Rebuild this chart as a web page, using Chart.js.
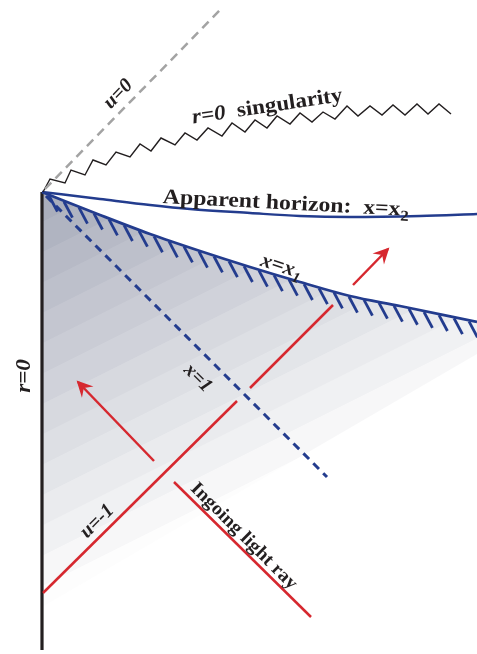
<!DOCTYPE html>
<html>
<head>
<meta charset="utf-8">
<script src="https://cdn.jsdelivr.net/npm/chart.js@4.4.1/dist/chart.umd.min.js"></script>
<style>
html, body { margin: 0; padding: 0; background: #fff; }
#wrap { width: 477px; height: 654px; }
</style>
</head>
<body>
<div id="wrap"><canvas id="graph" width="477" height="654"></canvas></div>
<script>
/**********/
// diagram coordinates: origin at the r=0 corner, y up
const axisR0       = [[0, 0], [0, -458]];
const nullU0       = [[3, 3], [178, 182]];
const singularity  = [[1, 0], [8, 13], [23, 9], [29, 22], [43, 17], [51, 32], [64, 27], [74, 40], [88, 35],
                      [98, 48], [109, 41], [119, 54], [133, 47], [143, 59], [155, 52], [166, 64], [180, 56],
                      [190, 69], [203, 60], [213, 72], [225, 64], [235, 76], [248, 68], [258, 79], [270, 70],
                      [281, 80], [293, 73], [305, 86], [316, 76], [328, 86], [340, 77], [351, 87], [363, 77],
                      [375, 88], [386, 78], [397, 88], [409, 78]];
const horizonX2    = [[0, 0], [58, -7], [108, -13], [148, -17], [208, -21], [258, -24], [308, -25], [378, -24], [435, -22]];
const horizonX1    = [[0, 0], [58, -23], [108, -42], [158, -59], [208, -75], [258, -90], [308, -104], [358, -114], [435, -130]];
const lineX1       = [[4, -4], [285, -285]];
const rayUm1Lower  = [[1, -401], [195, -209]];
const rayUm1Upper  = [[208, -196], [291, -113]];
const rayOut       = [[311, -93], [346, -57]];
const rayBack      = [[112, -269], [36, -190]];
const rayIngoing   = [[132, -290], [269, -425]];
const shadeEdge    = [[435, -162], [0, -415]];

const BLUE = "#233c8e";
const RED = "#d6282f";
const INK = "#231f20";

function pts(list) { return list.map(p => ({ x: p[0], y: p[1] })); }

/**********/
function shadeGradient(context)
{
    let chart = context.chart;
    if(!chart.chartArea) { return "#ccc"; }

    let x0 = chart.scales.x.getPixelForValue(0);
    let y0 = chart.scales.y.getPixelForValue(0);

    let g = chart.ctx.createLinearGradient(x0, y0, x0 + 170, y0 + 340);
    let bands = 14;
    let c0 = [170, 174, 188];
    let c1 = [253, 253, 253];

    for(let i = 0; i < bands; i++)
    {
        let t = i / (bands - 1);
        let c = c0.map((v, k) => Math.round(v + (c1[k] - v) * t));
        let col = "rgb(" + c.join(",") + ")";
        g.addColorStop(i / bands, col);
        g.addColorStop((i + 1) / bands - 0.002, col);
    }
    g.addColorStop(1, "rgb(253,253,253)");
    return g;
}

/**********/
function lineSet(list, color, width, extra)
{
    let ds = {
        data: pts(list),
        showLine: true,
        pointRadius: 0,
        borderColor: color,
        borderWidth: width,
        fill: false,
        order: 0
    };
    return Object.assign(ds, extra || {});
}

let shadeData = horizonX1.concat(shadeEdge).concat([horizonX1[0]]);

let datasets = [];
datasets.push({ data: pts(shadeData), showLine: true, pointRadius: 0, borderWidth: 0,
                borderColor: "rgba(0,0,0,0)", backgroundColor: shadeGradient, fill: "shape", order: 10 });
datasets.push(lineSet(nullU0, "#a3a3a3", 2.5, { borderDash: [9, 6] }));
datasets.push(lineSet(singularity, INK, 1.4, { borderJoinStyle: "miter" }));
datasets.push(lineSet(horizonX2, BLUE, 2.5, { cubicInterpolationMode: "monotone" }));
datasets.push(lineSet(horizonX1, BLUE, 2.8, { cubicInterpolationMode: "monotone", hatch: true }));
datasets.push(lineSet(lineX1, BLUE, 3, { borderDash: [8, 6] }));
datasets.push(lineSet(rayUm1Lower, RED, 2.5));
datasets.push(lineSet(rayUm1Upper, RED, 2.5));
datasets.push(lineSet(rayOut, RED, 2.5, { arrow: true }));
datasets.push(lineSet(rayBack, RED, 2.5, { arrow: true }));
datasets.push(lineSet(rayIngoing, RED, 2.5));
datasets.push(lineSet(axisR0, INK, 3.2));

/**********/
// labels: text parts, anchor in diagram units
const labels = [
    { parts: [{ t: "u=0", f: "italic bold" }], at: [75, 99], rot: -46, size: 20, sx: 1 },
    { parts: [{ t: "r=0", f: "italic bold" }, { t: "  singularity", f: "bold" }], at: [225, 87], rot: -8.5, size: 21, sx: 1.1 },
    { parts: [{ t: "Apparent horizon:  x=x", f: "bold" }, { t: "2", f: "bold", sub: true }], at: [244, -10], rot: 3, size: 21, sx: 1.13 },
    { parts: [{ t: "x=x", f: "italic bold" }, { t: "1", f: "italic bold", sub: true }], at: [240, -73], rot: 18, size: 21, sx: 1.05 },
    { parts: [{ t: "x=1", f: "italic bold" }], at: [157, -185], rot: 45, size: 20, sx: 1 },
    { parts: [{ t: "r=0", f: "italic bold" }], at: [-20, -184], rot: -90, size: 22, sx: 1.05 },
    { parts: [{ t: "u=-1", f: "italic bold" }], at: [54, -328], rot: -45, size: 20, sx: 1 },
    { parts: [{ t: "Ingoing light ray", f: "bold" }], at: [203, -343], rot: 45, size: 19, sx: 1.05 }
];

/**********/
const decorations = {
    id: "decorations",
    afterDatasetsDraw(chart)
    {
        let ctx = chart.ctx;

        chart.data.datasets.forEach((ds, i) =>
        {
            let meta = chart.getDatasetMeta(i);
            let p = meta.data.map(e => [e.x, e.y]);

            //hatching under x=x1
            if(ds.hatch)
            {
                ctx.save();
                ctx.strokeStyle = ds.borderColor;
                ctx.lineWidth = 2.8;
                let a = 62 * Math.PI / 180;
                let len = 18;
                for(let x = p[0][0] + 7; x <= chart.width; x += 15)
                {
                    let y = null;
                    for(let k = 0; k < p.length - 1; k++)
                    {
                        if(x >= p[k][0] && x <= p[k + 1][0])
                        {
                            let t = (x - p[k][0]) / (p[k + 1][0] - p[k][0]);
                            y = p[k][1] + t * (p[k + 1][1] - p[k][1]);
                        }
                    }
                    if(y === null) { continue; }
                    ctx.beginPath();
                    ctx.moveTo(x, y + 1);
                    ctx.lineTo(x + len * Math.cos(a), y + 1 + len * Math.sin(a));
                    ctx.stroke();
                }
                ctx.restore();
            }

            //arrow heads
            if(ds.arrow)
            {
                let a = p[p.length - 2], b = p[p.length - 1];
                let dx = b[0] - a[0], dy = b[1] - a[1];
                let d = Math.hypot(dx, dy);
                let ux = dx / d, uy = dy / d;
                let nx = -uy, ny = ux;
                let L = 16, w = 8;
                let tx = b[0] + ux * 2, ty = b[1] + uy * 2;
                ctx.save();
                ctx.fillStyle = ds.borderColor;
                ctx.beginPath();
                ctx.moveTo(tx, ty);
                ctx.lineTo(tx - ux * L + nx * w, ty - uy * L + ny * w);
                ctx.lineTo(tx - ux * L * 0.65, ty - uy * L * 0.65);
                ctx.lineTo(tx - ux * L - nx * w, ty - uy * L - ny * w);
                ctx.closePath();
                ctx.fill();
                ctx.restore();
            }
        });

        //text labels
        labels.forEach(lb =>
        {
            let cx = chart.scales.x.getPixelForValue(lb.at[0]);
            let cy = chart.scales.y.getPixelForValue(lb.at[1]);
            ctx.save();
            ctx.translate(cx, cy);
            ctx.rotate(lb.rot * Math.PI / 180);
            ctx.scale(lb.sx, 1);
            ctx.fillStyle = INK;
            ctx.textBaseline = "alphabetic";

            let fontOf = part => part.f + " " + (part.sub ? Math.round(lb.size * 0.7) : lb.size) + "px 'Liberation Serif', serif";
            let total = 0;
            lb.parts.forEach(part => { ctx.font = fontOf(part); total += ctx.measureText(part.t).width; });

            let x = -total / 2;
            lb.parts.forEach(part =>
            {
                ctx.font = fontOf(part);
                ctx.fillText(part.t, x, lb.size * 0.35 + (part.sub ? lb.size * 0.25 : 0));
                x += ctx.measureText(part.t).width;
            });
            ctx.restore();
        });
    }
};

/**********/
const graph = new Chart(document.getElementById("graph"),
{
    type: "scatter",
    data: { datasets: datasets },
    options:
    {
        responsive: false,
        animation: false,
        devicePixelRatio: 1,
        layout: { padding: 0 },
        plugins: { legend: { display: false }, tooltip: { enabled: false } },
        scales:
        {
            x: { type: "linear", min: -42, max: 435, display: false },
            y: { type: "linear", min: -462, max: 192, display: false }
        }
    },
    plugins: [decorations]
});
</script>
</body>
</html>
